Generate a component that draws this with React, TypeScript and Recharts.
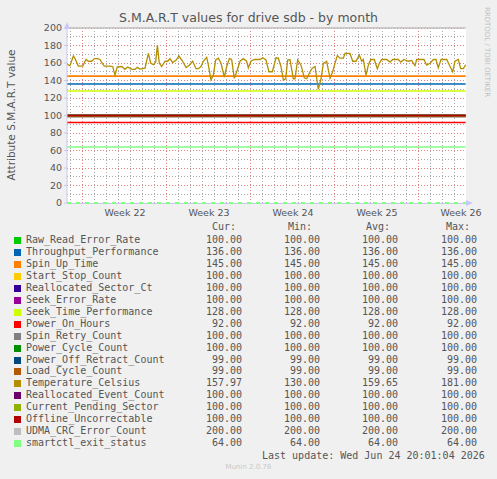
import { LineChart, Line, XAxis, YAxis, CartesianGrid } from 'recharts';

// S.M.A.R.T attributes, in legend order (later ones are drawn on top)
const attrNames = [
  'Raw_Read_Error_Rate',
  'Throughput_Performance',
  'Spin_Up_Time',
  'Start_Stop_Count',
  'Reallocated_Sector_Ct',
  'Seek_Error_Rate',
  'Seek_Time_Performance',
  'Power_On_Hours',
  'Spin_Retry_Count',
  'Power_Cycle_Count',
  'Power_Off_Retract_Count',
  'Load_Cycle_Count',
  'Temperature_Celsius',
  'Reallocated_Event_Count',
  'Current_Pending_Sector',
  'Offline_Uncorrectable',
  'UDMA_CRC_Error_Count',
  'smartctl_exit_status',
];
const attrColors = [
  '#00cc00', '#0066b3', '#ff8000', '#ffcc00', '#330099', '#990099',
  '#ccff00', '#ff0000', '#808080', '#008f00', '#00487d', '#b35a00',
  '#b38f00', '#6b006b', '#8fb300', '#b30000', '#bebebe', '#80ff80',
];
const curValues = [100, 136, 145, 100, 100, 100, 128, 92, 100, 100, 99, 99, 157.97, 100, 100, 100, 200, 64];
const minValues = [100, 136, 145, 100, 100, 100, 128, 92, 100, 100, 99, 99, 130, 100, 100, 100, 200, 64];
const avgValues = [100, 136, 145, 100, 100, 100, 128, 92, 100, 100, 99, 99, 159.65, 100, 100, 100, 200, 64];
const maxValues = [100, 136, 145, 100, 100, 100, 128, 92, 100, 100, 99, 99, 181, 100, 100, 100, 200, 64];

// Temperature_Celsius samples (x = days since the left edge of the graph)
const tempDays = [
  0, 0.25, 0.53, 0.67, 0.94, 1.31, 1.58, 1.78, 2.06, 2.28, 2.53, 2.75, 2.94, 3.11, 3.58, 3.81,
  4.0, 4.19, 4.56, 4.83, 5.06, 5.39, 5.67, 5.86, 6.08, 6.5, 6.78, 6.97, 7.19, 7.39, 7.53, 7.69,
  7.89, 8.17, 8.39, 8.58, 8.81, 9.08, 9.33, 9.64, 9.92, 10.19, 10.47, 10.75, 10.94, 11.17, 11.36,
  11.64, 11.78, 12.0, 12.19, 12.39, 12.61, 12.83, 13.11, 13.31, 13.53, 13.72, 13.94, 14.14, 14.42,
  14.69, 14.97, 15.11, 15.33, 15.61, 16.08, 16.31, 16.58, 16.83, 17.11, 17.42, 17.61, 17.83, 18.03,
  18.22, 18.39, 18.58, 18.86, 19.0, 19.22, 19.5, 19.78, 19.97, 20.25, 20.44, 20.67, 20.94, 21.17,
  21.36, 21.64, 21.92, 22.14, 22.33, 22.53, 22.75, 23.03, 23.17, 23.58, 23.81, 24.08, 24.36, 24.56,
  24.69, 24.92, 25.11, 25.31, 25.61, 25.86, 26.03, 26.22, 26.64, 26.92, 27.14, 27.61, 27.81, 28.08,
  28.44, 28.72, 29.0, 29.14, 29.75, 29.97, 30.25, 30.53, 30.75, 30.94, 31.17, 31.64, 31.92, 32.14,
  32.33, 32.61, 32.81, 33.03, 33.22,
];
const tempValues = [
  158.5, 157, 168, 165, 156.5, 156.5, 164, 162, 162, 165, 165, 164, 159.6, 156.5, 156.5, 155.8,
  146, 155.5, 156, 152.8, 155.5, 152.8, 152.8, 155, 153, 154, 171, 160, 158, 161, 180.5, 160,
  156, 162, 162, 165, 160.5, 163, 168, 162, 154.7, 157.5, 162, 153.5, 153.5, 156, 162,
  166.5, 157.5, 140.6, 146, 163.5, 165.5, 160, 144, 156, 165, 164, 142.5, 150, 162,
  165, 162, 154.5, 162, 164, 164, 166, 163.5, 150, 150, 166, 165.5, 156, 140.6,
  142, 163.5, 164, 142, 142, 163.5, 157.5, 143, 142, 150, 154, 156, 130, 142,
  159.6, 162, 142.5, 150, 159.6, 168.4, 165.5, 165.5, 171, 171, 162, 162, 169, 162,
  164, 146, 157.5, 164, 164, 153.5, 159.6, 164, 164, 161, 164, 164, 161, 164,
  162, 163, 157, 164, 164, 157.5, 159.6, 164, 164, 154.5, 164, 164, 156, 150,
  162, 164, 153.5, 153.5, 158,
];

// x axis: week boundaries and labels (centred in each week)
const weekStarts = [1.33, 8.33, 15.33, 22.33, 29.33];
const weekCentres = [4.83, 11.83, 18.83, 25.83, 32.83];
const weekLabels = ['Week 22', 'Week 23', 'Week 24', 'Week 25', 'Week 26'];
const yTicks = [0, 20, 40, 60, 80, 100, 120, 140, 160, 180, 200];
const yMinor = [10, 30, 50, 70, 90, 110, 130, 150, 170, 190];

const X_MAX = 33.25;
const dayLines = [weekStarts[0] - 1, ...weekStarts.flatMap((w) => [1, 2, 3, 4, 5, 6].map((d) => w + d))].filter(
  (d) => d > 0 && d < X_MAX
);

const tempIdx = attrNames.indexOf('Temperature_Celsius');
const data = tempDays.map((day, i) => {
  const row: Record<string, number> = { day };
  attrNames.forEach((name, j) => {
    row[name] = j === tempIdx ? tempValues[i] : curValues[j];
  });
  return row;
});

const TEXT = '#555555';
const AXIS = '#c8c8f0';
const MONO = '"DejaVu Sans Mono", monospace';
const SANS = '"DejaVu Sans", sans-serif';

const fmt = (v: number) => v.toFixed(2);

export default function App() {
  const rowTop = (i: number) => 234 + i * 11.95;
  return (
    <div style={{ position: 'absolute', left: 0, top: 0, width: 497, height: 479, background: '#f0f0f0', overflow: 'hidden' }}>
      <div style={{ position: 'absolute', left: 0, top: 10, width: 497, textAlign: 'center', fontFamily: SANS, fontSize: 12.5, color: TEXT }}>
        S.M.A.R.T values for drive sdb - by month
      </div>
      <div
        style={{
          position: 'absolute', left: 11, top: 115, fontFamily: SANS, fontSize: 10.5, color: TEXT, whiteSpace: 'nowrap',
          transform: 'translate(-50%, -50%) rotate(-90deg)',
        }}
      >
        Attribute S.M.A.R.T value
      </div>
      <div
        style={{
          position: 'absolute', left: 487, top: 52, fontFamily: SANS, fontSize: 7, color: '#c0c0c0', whiteSpace: 'nowrap',
          transform: 'translate(-50%, -50%) rotate(90deg)',
        }}
      >
        RRDTOOL / TOBI OETIKER
      </div>

      <div style={{ position: 'absolute', left: 0, top: 0 }}>
        <LineChart width={497} height={225} data={data} margin={{ top: 28, right: 31, left: 27, bottom: 0 }}>
          <CartesianGrid
            fill="#ffffff"
            stroke="#a8a8a8"
            strokeDasharray="1 2"
            shapeRendering="crispEdges"
            verticalValues={dayLines}
            horizontalValues={yMinor}
          />
          <CartesianGrid
            stroke="#e08080"
            strokeDasharray="1 2"
            shapeRendering="crispEdges"
            verticalValues={weekStarts}
            horizontalValues={yTicks.filter((v) => v > 0)}
          />
          <CartesianGrid stroke={AXIS} vertical={false} horizontalValues={[0]} shapeRendering="crispEdges" />
          <XAxis
            dataKey="day"
            type="number"
            domain={[0, X_MAX]}
            ticks={weekCentres}
            tickFormatter={(v: number) => weekLabels[weekCentres.indexOf(v)] ?? ''}
            tickLine={false}
            axisLine={{ stroke: '#80ff80', strokeWidth: 2, strokeDasharray: '4 5' }}
            tick={{ fill: TEXT, fontSize: 9.5, fontFamily: SANS, dy: -2 }}
            height={22}
            interval={0}
          />
          <YAxis
            type="number"
            domain={[0, 200]}
            ticks={yTicks}
            width={40}
            tickSize={3}
            tickMargin={2}
            axisLine={{ stroke: AXIS }}
            tickLine={{ stroke: AXIS }}
            tick={{ fill: TEXT, fontSize: 9.5, fontFamily: SANS }}
            interval={0}
          />
          {attrNames.map((name, j) => (
            <Line
              key={name}
              dataKey={name}
              type="linear"
              stroke={attrColors[j]}
              strokeWidth={j === tempIdx ? 1.3 : 1.6}
              dot={false}
              isAnimationActive={false}
            />
          ))}
        </LineChart>
      </div>

      <svg width={497} height={225} style={{ position: 'absolute', left: 0, top: 0 }}>
        <polygon points="64,29 70,29 67,22" fill="#c8c8f8" />
        <polygon points="466,200 466,206 473,203" fill="#c8c8f8" />
      </svg>

      {/* legend */}
      <div style={{ position: 'absolute', left: 0, top: 221, width: 497, fontFamily: MONO, fontSize: 10, color: TEXT, lineHeight: '12px' }}>
        <div style={{ position: 'absolute', right: 497 - 236, whiteSpace: 'pre' }}>Cur:</div>
        <div style={{ position: 'absolute', right: 497 - 312, whiteSpace: 'pre' }}>Min:</div>
        <div style={{ position: 'absolute', right: 497 - 390, whiteSpace: 'pre' }}>Avg:</div>
        <div style={{ position: 'absolute', right: 497 - 470, whiteSpace: 'pre' }}>Max:</div>
      </div>
      {attrNames.map((name, i) => (
        <div
          key={name}
          style={{ position: 'absolute', left: 0, top: rowTop(i), width: 497, height: 12, fontFamily: MONO, fontSize: 10, color: TEXT, lineHeight: '12px' }}
        >
          <div style={{ position: 'absolute', left: 14, top: 3, width: 7, height: 7, background: attrColors[i] }} />
          <div style={{ position: 'absolute', left: 26, whiteSpace: 'pre' }}>{name}</div>
          <div style={{ position: 'absolute', right: 497 - 242, whiteSpace: 'pre' }}>{fmt(curValues[i])}</div>
          <div style={{ position: 'absolute', right: 497 - 320, whiteSpace: 'pre' }}>{fmt(minValues[i])}</div>
          <div style={{ position: 'absolute', right: 497 - 398, whiteSpace: 'pre' }}>{fmt(avgValues[i])}</div>
          <div style={{ position: 'absolute', right: 497 - 477, whiteSpace: 'pre' }}>{fmt(maxValues[i])}</div>
        </div>
      ))}
      <div style={{ position: 'absolute', left: 262, top: 450, fontFamily: MONO, fontSize: 10, color: TEXT, lineHeight: '12px', whiteSpace: 'pre' }}>
        Last update: Wed Jun 24 20:01:04 2026
      </div>
      <div style={{ position: 'absolute', left: 0, width: 497, top: 463, textAlign: 'center', fontFamily: SANS, fontSize: 7, color: '#c8c8c8' }}>
        Munin 2.0.76
      </div>
    </div>
  );
}
